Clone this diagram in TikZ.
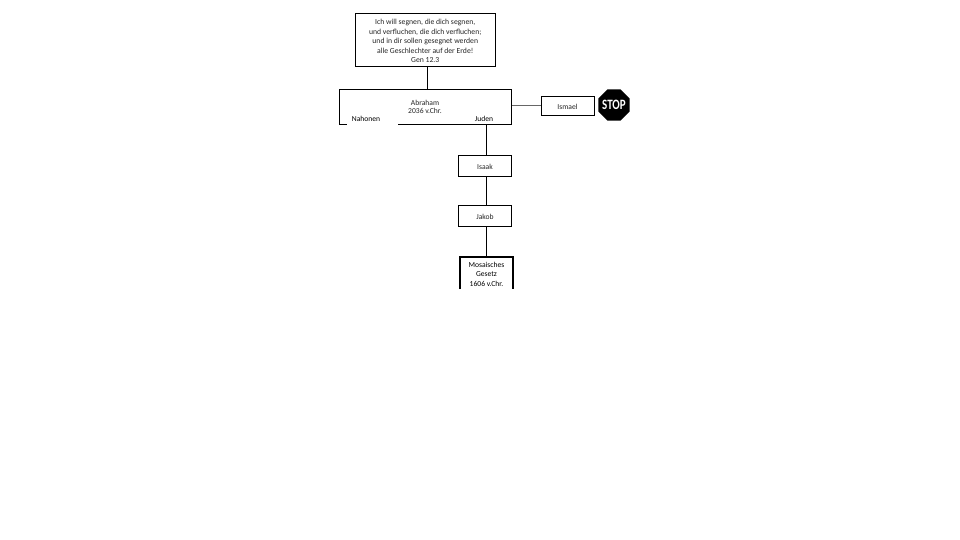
\documentclass[tikz,border=0pt]{standalone}
\usepackage{fontspec}
\setmainfont{Carlito}
\usetikzlibrary{shapes.geometric}
\tikzset{
  box/.style={draw=black,fill=white,line width=0.8pt,inner sep=0pt},
  lab/.style={inner sep=0pt,align=center,font=\fontsize{7.6}{8.5}\selectfont,text=black!85},
  conn/.style={draw=black,line width=0.7pt},
  thinconn/.style={draw=black!60,line width=0.5pt}
}
\begin{document}
\begin{tikzpicture}[x=1pt,y=-1pt]
\useasboundingbox (0,0) rectangle (960,540);
\node[box,minimum width=139.5pt,minimum height=53pt] (verse) at (425.25,39.5) {};
\node[lab,font=\fontsize{7.7}{9.4}\selectfont] (verset) at (425.25,41) {Ich will segnen, die dich segnen,\\und verfluchen, die dich verfluchen;\\und in dir sollen gesegnet werden\\alle Geschlechter auf der Erde!\\Gen 12.3};
\node[box,minimum width=172pt,minimum height=35pt,anchor=north west] (abr) at (339,89) {};
\draw[line width=1.1pt] (abr.south west) -- (abr.south east) -- (abr.north east);
\node[lab] (abrt) at (425,107) {Abraham\\2036 v.Chr.};
\fill[white] (347,121) rectangle (398,127);
\node[lab,text=black] (nah) at (366,118.5) {Nahonen};
\node[lab,text=black] (jud) at (484,118.5) {Juden};
\node[box,minimum width=53pt,minimum height=19pt] (ism) at (567.5,105.5) {};
\node[lab] (ismt) at (567.5,107) {Ismael};
\node[regular polygon,regular polygon sides=8,fill=black,minimum size=34pt,inner sep=0pt] (stop) at (614,105) {};
\node[text=white,inner sep=0pt,font=\fontsize{11}{12}\bfseries] (stopt) at (614,105) {\scalebox{1.0}[1.3]{STOP}};
\node[box,line width=0.9pt,minimum width=53pt,minimum height=21pt] (isa) at (484.5,165.5) {};
\node[lab] (isat) at (485,166.5) {Isaak};
\node[box,minimum width=53pt,minimum height=21pt] (jak) at (484.5,215.5) {};
\node[lab] (jakt) at (485,216.5) {Jakob};
\coordinate (mt) at (486,257);
\coordinate (vj) at (427.5,66);
\coordinate (aj) at (486,124);
\node[lab,text=black,font=\fontsize{7.6}{9.4}\selectfont] (mos) at (486.5,274) {Mosaisches\\Gesetz\\1606 v.Chr.};
\draw[line width=1.1pt] (460,289) -- (460,257) -- (513,257) -- (513,289);
\draw[conn] (vj) -- (vj |- abr.north);
\draw[conn] (aj) -- (aj |- isa.north);
\draw[conn] (aj |- isa.south) -- (aj |- jak.north);
\draw[conn] (aj |- jak.south) -- (mt);
\draw[thinconn] (abr.east |- ism.west) -- (ism.west);
\end{tikzpicture}
\end{document}
